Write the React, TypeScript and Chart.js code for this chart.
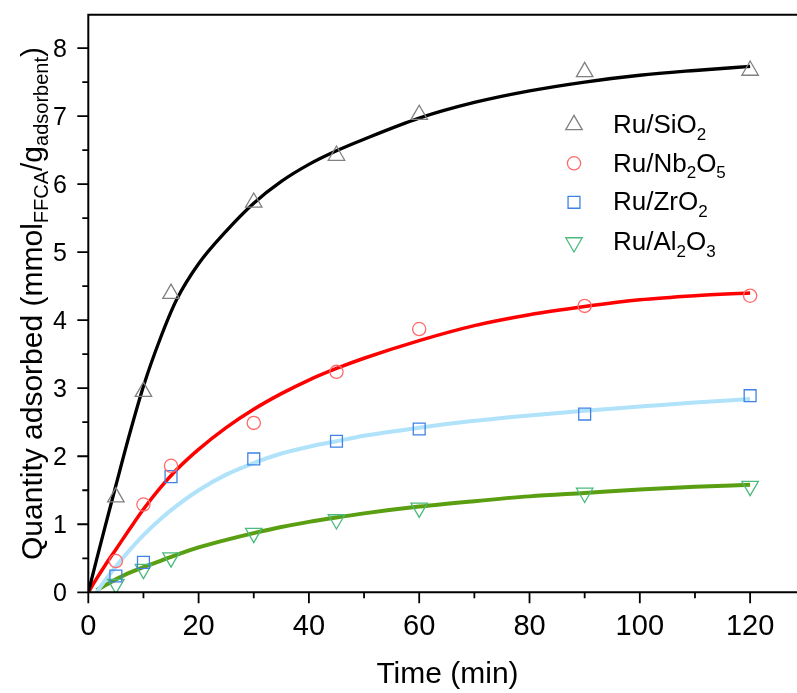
import React, { useEffect, useRef } from "react";
import { Chart, registerables } from "chart.js";

Chart.register(...registerables);

// ---- data ----
const sampleTimes = [5, 10, 15, 30, 45, 60, 90, 120];
const siO2Points = [1.4, 2.95, 4.39, 5.73, 6.42, 7.02, 7.65, 7.67];
const nb2O5Points = [0.46, 1.29, 1.86, 2.49, 3.24, 3.87, 4.21, 4.36];
const zrO2Points = [0.24, 0.44, 1.7, 1.96, 2.22, 2.4, 2.62, 2.89];
const al2O3Points = [0.12, 0.34, 0.51, 0.87, 1.07, 1.24, 1.46, 1.56];

const fitTimes = [0, 1.5, 3, 5, 7.5, 10, 13, 16, 20, 25, 30, 35, 40, 45, 50, 60, 70, 80, 90, 100, 110, 120];
const siO2Fit = [0, 0.48, 0.95, 1.57, 2.33, 3.03, 3.72, 4.3, 4.83, 5.31, 5.72, 6.04, 6.29, 6.49, 6.66, 6.97, 7.2, 7.37, 7.5, 7.6, 7.67, 7.73];
const nb2O5Fit = [0, 0.2, 0.39, 0.63, 0.93, 1.22, 1.53, 1.8, 2.1, 2.42, 2.69, 2.92, 3.12, 3.29, 3.44, 3.7, 3.92, 4.08, 4.2, 4.3, 4.36, 4.4];
const zrO2Fit = [null, 0, 0.17, 0.38, 0.62, 0.84, 1.07, 1.27, 1.5, 1.73, 1.9, 2.04, 2.14, 2.22, 2.3, 2.42, 2.52, 2.6, 2.67, 2.73, 2.79, 2.84];
const al2O3Fit = [null, 0.03, 0.1, 0.19, 0.29, 0.37, 0.46, 0.55, 0.66, 0.77, 0.87, 0.96, 1.035, 1.1, 1.16, 1.26, 1.34, 1.41, 1.46, 1.51, 1.55, 1.58];

const xTicks = [0, 20, 40, 60, 80, 100, 120];
const xMinorTicks = [10, 30, 50, 70, 90, 110];
const yTicks = [0, 1, 2, 3, 4, 5, 6, 7, 8];
const yMinorTicks = [0.5, 1.5, 2.5, 3.5, 4.5, 5.5, 6.5, 7.5];

const xTitle = "Time (min)";
const yTitleParts: [string, boolean][] = [
  ["Quantity adsorbed (mmol", false],
  ["FFCA", true],
  ["/g", false],
  ["adsorbent", true],
  [")", false],
];
const legendParts: [string, boolean][][] = [
  [["Ru/SiO", false], ["2", true]],
  [["Ru/Nb", false], ["2", true], ["O", false], ["5", true]],
  [["Ru/ZrO", false], ["2", true]],
  [["Ru/Al", false], ["2", true], ["O", false], ["3", true]],
];

const FONT = '"Liberation Sans", Arial, Helvetica, sans-serif';

const markerStyles = [
  { style: "triangle", rotation: 0, radius: 9.5, color: "#808080" },
  { style: "circle", rotation: 0, radius: 6.6, color: "#ff6b6b" },
  { style: "rect", rotation: 0, radius: 8.4, color: "#3f82e6" },
  { style: "triangle", rotation: 180, radius: 9.5, color: "#4cba7e" },
];
const curveStyles = [
  { color: "#000000", width: 3.3 },
  { color: "#ff0000", width: 3.5 },
  { color: "#b0e2fa", width: 4 },
  { color: "#5a9e12", width: 4 },
];

function pts(xs: number[], ys: (number | null)[]) {
  return xs.map((x, i) => ({ x, y: ys[i] }));
}

function drawMarker(ctx: CanvasRenderingContext2D, style: string, x: number, y: number, r: number, rotation: number) {
  ctx.beginPath();
  if (style === "triangle") {
    let rad = (rotation * Math.PI) / 180;
    ctx.moveTo(x + Math.sin(rad) * r, y - Math.cos(rad) * r);
    rad += (2 * Math.PI) / 3;
    ctx.lineTo(x + Math.sin(rad) * r, y - Math.cos(rad) * r);
    rad += (2 * Math.PI) / 3;
    ctx.lineTo(x + Math.sin(rad) * r, y - Math.cos(rad) * r);
    ctx.closePath();
  } else if (style === "circle") {
    ctx.arc(x, y, r, 0, Math.PI * 2);
  } else {
    const s = r * Math.SQRT1_2;
    ctx.rect(x - s, y - s, 2 * s, 2 * s);
  }
  ctx.stroke();
}

function richWidth(ctx: CanvasRenderingContext2D, parts: [string, boolean][], main: number, sub: number) {
  let w = 0;
  for (const [t, s] of parts) {
    ctx.font = `${s ? sub : main}px ${FONT}`;
    w += ctx.measureText(t).width;
  }
  return w;
}

function drawRich(ctx: CanvasRenderingContext2D, parts: [string, boolean][], x: number, y: number, main: number, sub: number, shift: number) {
  let cx = x;
  for (const [t, s] of parts) {
    ctx.font = `${s ? sub : main}px ${FONT}`;
    ctx.fillText(t, cx, y + (s ? shift : 0));
    cx += ctx.measureText(t).width;
  }
}

const decorPlugin = {
  id: "decor",
  afterDraw(chart: any) {
    const ctx: CanvasRenderingContext2D = chart.ctx;
    const { left, right, top, bottom } = chart.chartArea;
    const xs = chart.scales.x;
    const ys = chart.scales.y;
    ctx.save();
    ctx.strokeStyle = "#000";
    ctx.lineWidth = 2;
    ctx.lineCap = "butt";
    // axes + top border
    ctx.beginPath();
    ctx.moveTo(left, top);
    ctx.lineTo(left, bottom + 1);
    ctx.moveTo(left - 1, bottom);
    ctx.lineTo(right, bottom);
    ctx.moveTo(left - 1, top);
    ctx.lineTo(right, top);
    ctx.stroke();
    // ticks
    ctx.lineWidth = 1.8;
    ctx.beginPath();
    for (const v of xTicks) {
      const p = xs.getPixelForValue(v);
      ctx.moveTo(p, bottom);
      ctx.lineTo(p, bottom + 11);
    }
    for (const v of xMinorTicks) {
      const p = xs.getPixelForValue(v);
      ctx.moveTo(p, bottom);
      ctx.lineTo(p, bottom + 6);
    }
    for (const v of yTicks) {
      const p = ys.getPixelForValue(v);
      ctx.moveTo(left, p);
      ctx.lineTo(left - 11, p);
    }
    for (const v of yMinorTicks) {
      const p = ys.getPixelForValue(v);
      ctx.moveTo(left, p);
      ctx.lineTo(left - 6, p);
    }
    ctx.stroke();

    // tick labels
    ctx.fillStyle = "#000";
    ctx.textBaseline = "alphabetic";
    ctx.textAlign = "center";
    ctx.font = `29px ${FONT}`;
    for (const v of xTicks) {
      ctx.fillText(String(v), xs.getPixelForValue(v), bottom + 43);
    }
    ctx.textAlign = "right";
    ctx.font = `25px ${FONT}`;
    for (const v of yTicks) {
      ctx.fillText(String(v), left - 21.5, ys.getPixelForValue(v) + 9);
    }

    // x title
    ctx.textAlign = "center";
    ctx.font = `30px ${FONT}`;
    ctx.fillText(xTitle, 447.5, 683);

    // y title (rotated, with subscripts)
    ctx.textAlign = "left";
    const tw = richWidth(ctx, yTitleParts, 30, 20);
    const cy = (top + bottom) / 2;
    ctx.save();
    ctx.translate(42, cy + tw / 2);
    ctx.rotate(-Math.PI / 2);
    drawRich(ctx, yTitleParts, 0, 0, 30, 20, 6);
    ctx.restore();

    // legend
    const markerY = [124.8, 163.3, 202.3, 242.5];
    const textY = [133.3, 171.7, 210, 250];
    for (let i = 0; i < legendParts.length; i++) {
      const m = markerStyles[i];
      ctx.strokeStyle = m.color;
      ctx.lineWidth = 1.3;
      drawMarker(ctx, m.style, 574, markerY[i], m.radius, m.rotation);
      ctx.fillStyle = "#000";
      drawRich(ctx, legendParts[i], 613, textY[i], 26, 17, 6.5);
    }
    ctx.restore();
  },
};

export default function App() {
  const canvasRef = useRef<HTMLCanvasElement | null>(null);

  useEffect(() => {
    const canvas = canvasRef.current;
    if (!canvas) return;
    const pointSeries = [siO2Points, nb2O5Points, zrO2Points, al2O3Points];
    const fitSeries = [siO2Fit, nb2O5Fit, zrO2Fit, al2O3Fit];
    const names = ["Ru/SiO2", "Ru/Nb2O5", "Ru/ZrO2", "Ru/Al2O3"];

    const datasets: any[] = [];
    fitSeries.forEach((ys, i) => {
      datasets.push({
        label: names[i] + " fit",
        data: pts(fitTimes, ys),
        showLine: true,
        pointRadius: 0,
        borderColor: curveStyles[i].color,
        borderWidth: curveStyles[i].width,
        cubicInterpolationMode: "monotone",
        fill: false,
        order: 2,
      });
    });
    pointSeries.forEach((ys, i) => {
      const m = markerStyles[i];
      datasets.push({
        label: names[i],
        data: pts(sampleTimes, ys),
        showLine: false,
        pointStyle: m.style,
        pointRotation: m.rotation,
        pointRadius: m.radius,
        pointBorderColor: m.color,
        pointBackgroundColor: "rgba(0,0,0,0)",
        pointBorderWidth: 1.3,
        order: 1,
      });
    });

    const chart = new Chart(canvas, {
      type: "scatter",
      data: { datasets },
      options: {
        animation: false,
        responsive: false,
        devicePixelRatio: 1,
        layout: { autoPadding: false, padding: { top: 14.7, left: 0, right: 0, bottom: 0 } },
        plugins: { legend: { display: false }, tooltip: { enabled: false } },
        scales: {
          x: {
            type: "linear",
            min: 0,
            max: 128.5,
            grid: { display: false, drawTicks: false },
            border: { display: false },
            afterBuildTicks: (axis: any) => {
              axis.ticks = xTicks.map((v) => ({ value: v }));
            },
            afterFit: (axis: any) => {
              axis.height = 100.7;
              axis.paddingLeft = 0;
              axis.paddingRight = 0;
            },
            ticks: { display: false, padding: 0 },
          },
          y: {
            type: "linear",
            min: 0,
            max: 8.49,
            grid: { display: false, drawTicks: false },
            border: { display: false },
            afterBuildTicks: (axis: any) => {
              axis.ticks = yTicks.map((v) => ({ value: v }));
            },
            afterFit: (axis: any) => {
              axis.width = 88.3;
              axis.paddingTop = 0;
              axis.paddingBottom = 0;
            },
            ticks: { display: false, padding: 0 },
          },
        },
      },
      plugins: [decorPlugin],
    } as any);

    return () => chart.destroy();
  }, []);

  return (
    <div style={{ position: "absolute", left: 0, top: 0, width: 797, height: 693, background: "#fff" }}>
      <canvas ref={canvasRef} width={797} height={693} style={{ display: "block", width: 797, height: 693 }} />
    </div>
  );
}
